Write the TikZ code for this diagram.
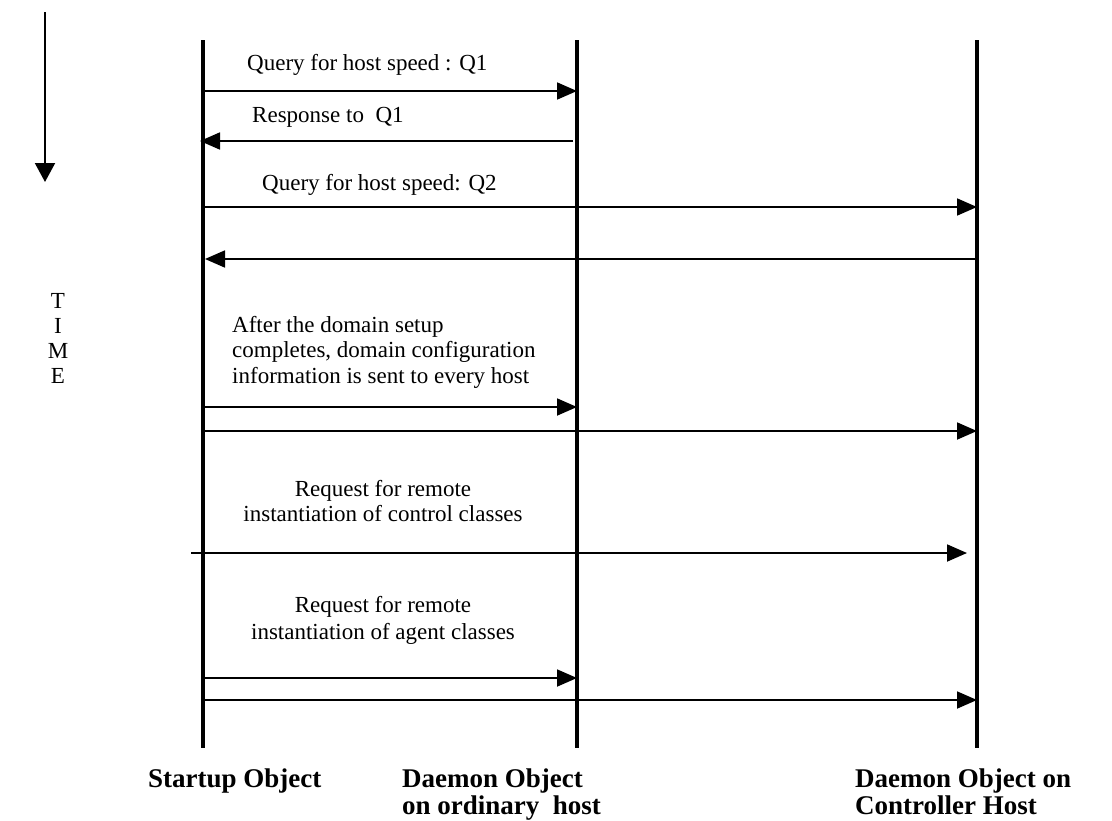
\documentclass[tikz,border=0pt]{standalone}
\usepackage{fontspec}
\setmainfont{Liberation Serif}
\usetikzlibrary{arrows.meta}
\begin{document}
\begin{tikzpicture}[x=1pt,y=-1pt,
  lifeline/.style={line width=4.5pt},
  msg/.style={line width=1.8pt,-{Triangle[length=20pt,width=17pt]}},
  lbl/.style={inner sep=0pt,font=\fontsize{23}{26}\selectfont},
  who/.style={inner sep=0pt,font=\fontsize{27}{26}\selectfont\bfseries},
  tick/.style={inner sep=0pt,font=\fontsize{23}{26}\selectfont}]
\useasboundingbox (0,0) rectangle (1112,820);

% time axis
\coordinate (t0) at (45,12);
\coordinate (t1) at (45,182);
\draw[line width=2pt,-{Triangle[length=19pt,width=20pt]}] (t0) -- (t1);
\node[tick] (tT) at (58,301) {T};
\node[tick] (tI) at (58,326) {I};
\node[tick] (tM) at (58,351) {M};
\node[tick] (tE) at (58,376) {E};

% lifelines
\coordinate (sTop) at (203,40);  \coordinate (sBot) at (203,748);
\coordinate (oTop) at (577,40);  \coordinate (oBot) at (577,748);
\coordinate (cTop) at (977,40);  \coordinate (cBot) at (977,748);
\draw[lifeline] (sTop) -- (sBot);
\draw[lifeline] (oTop) -- (oBot);
\draw[lifeline] (cTop) -- (cBot);

% message end points
\coordinate (m1a) at (203,91);  \coordinate (m1b) at (577,91);
\coordinate (m2a) at (573,141); \coordinate (m2b) at (200,141);
\coordinate (m3a) at (203,207); \coordinate (m3b) at (977,207);
\coordinate (m4a) at (977,259); \coordinate (m4b) at (205,259);
\coordinate (m5a) at (203,407); \coordinate (m5b) at (577,407);
\coordinate (m6a) at (203,431); \coordinate (m6b) at (977,431);
\coordinate (m7a) at (191,553); \coordinate (m7b) at (967,553);
\coordinate (m8a) at (203,678); \coordinate (m8b) at (577,678);
\coordinate (m9a) at (203,700); \coordinate (m9b) at (977,700);

\draw[msg] (m1a) -- (m1b);
\draw[msg] (m2a) -- (m2b);
\draw[msg] (m3a) -- (m3b);
\draw[msg] (m4a) -- (m4b);
\draw[msg] (m5a) -- (m5b);
\draw[msg] (m6a) -- (m6b);
\draw[msg] (m7a) -- (m7b);
\draw[msg] (m8a) -- (m8b);
\draw[msg] (m9a) -- (m9b);

% message labels
\node[lbl,anchor=base west] (l1) at (247,70) {Query for host speed : Q1};
\node[lbl,anchor=base west] (l2) at (252,122) {Response to\ \ Q1};
\node[lbl,anchor=base west] (l3) at (262,190) {Query for host speed: Q2};
\node[lbl,anchor=base west] (l4a) at (232,332) {After the domain setup};
\node[lbl,anchor=base west] (l4b) at (232,357.5) {completes, domain configuration};
\node[lbl,anchor=base west] (l4c) at (232,383) {information is sent to every host};
\node[lbl,anchor=base] (l5a) at (383,496) {Request for remote};
\node[lbl,anchor=base] (l5b) at (383,521) {instantiation of control classes};
\node[lbl,anchor=base] (l6a) at (383,612) {Request for remote};
\node[lbl,anchor=base] (l6b) at (383,639) {instantiation of agent classes};

% object names
\node[who,anchor=base west] (n1) at (148,787) {Startup Object};
\node[who,anchor=base west] (n2a) at (402,787) {Daemon Object};
\node[who,anchor=base west] (n2b) at (402,814) {on ordinary\ \ host};
\node[who,anchor=base west] (n3a) at (855,787) {Daemon Object on};
\node[who,anchor=base west] (n3b) at (855,814) {Controller Host};
\end{tikzpicture}
\end{document}
